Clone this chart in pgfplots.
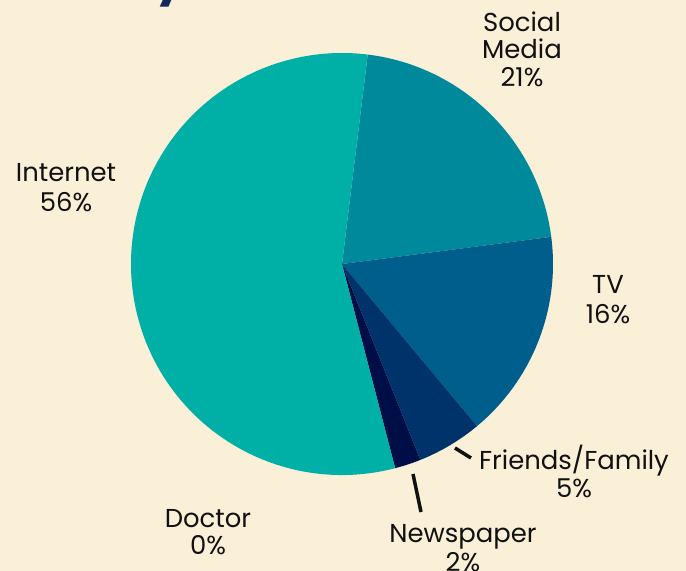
\documentclass[border=0pt]{standalone}
\usepackage{pgfplots}
\usepackage{pgfplotstable}
\pgfplotsset{compat=1.18}
\usepackage{fontspec}
\setmainfont{Poppins}

\definecolor{bgcol}{HTML}{FAF0D8}
\definecolor{intcol}{HTML}{00AFA5}
\definecolor{smcol}{HTML}{00899B}
\definecolor{tvcol}{HTML}{005E8C}
\definecolor{ffcol}{HTML}{00336A}
\definecolor{npcol}{HTML}{000E48}
\definecolor{doccol}{HTML}{000A30}
\definecolor{titlecol}{HTML}{10295A}
\definecolor{txtcol}{HTML}{111111}

% share of each source, clockwise from the top
\pgfplotstableread[col sep=comma]{
label,value,color
Social Media,21,smcol
TV,16,tvcol
Friends/Family,5,ffcol
Newspaper,2,npcol
Doctor,0,doccol
Internet,56,intcol
}\piedata

% label line: x, y (from top of picture), text
\newcommand{\lbl}[3]{\node[anchor=base,text=txtcol,font=\fontsize{26}{26}\selectfont,inner sep=0pt] at (axis cs:#1,{571-#2}) {#3};}

\begin{document}
\begin{tikzpicture}
\path[use as bounding box] (0,0) rectangle (686bp,571bp);
\fill[bgcol] (0,0) rectangle (686bp,571bp);
\clip (0,0) rectangle (686bp,571bp);
\begin{axis}[
  at={(0,0)}, anchor=south west,
  scale only axis, hide axis, clip=false,
  x=1bp, y=1bp,
  xmin=0, xmax=686, ymin=0, ymax=571]
\pgfplotsextra{
  \pgfplotstablegetrowsof{\piedata}
  \pgfmathtruncatemacro\nrows{\pgfplotsretval-1}
  \gdef\angA{83}
  \foreach \i in {0,...,\nrows}{
    \pgfplotstablegetelem{\i}{value}\of\piedata
    \pgfmathsetmacro\angB{\angA-3.6*\pgfplotsretval}
    \pgfplotstablegetelem{\i}{color}\of\piedata
    \edef\col{\pgfplotsretval}
    \fill[\col] (axis cs:342,307) -- (axis cs:{342+211*cos(\angA)},{307+211*sin(\angA)})
      arc[start angle=\angA, end angle=\angB, radius=211bp] -- cycle;
    \xdef\angA{\angB}
  }
}
% leader lines
\draw[txtcol, line width=3.5bp] (axis cs:455,{571-448}) -- (axis cs:471,{571-458});
\draw[txtcol, line width=3.5bp] (axis cs:413,{571-474}) -- (axis cs:421,{571-512});
% labels
\lbl{522}{32}{Social}
\lbl{522}{59}{Media}
\lbl{522}{87}{21\%}
\lbl{66}{182}{Internet}
\lbl{66}{211}{56\%}
\lbl{608}{293}{TV}
\lbl{608}{323}{16\%}
\lbl{574}{469}{Friends/Family}
\lbl{574}{497}{5\%}
\lbl{463}{542}{Newspaper}
\lbl{463}{571}{2\%}
\lbl{208}{527}{Doctor}
\lbl{208}{554}{0\%}
% cut-off title above the chart
\node[anchor=base west,text=titlecol,font=\bfseries\fontsize{48}{48}\selectfont,inner sep=0pt] at (axis cs:155,576) {y};
\end{axis}
\end{tikzpicture}
\end{document}
